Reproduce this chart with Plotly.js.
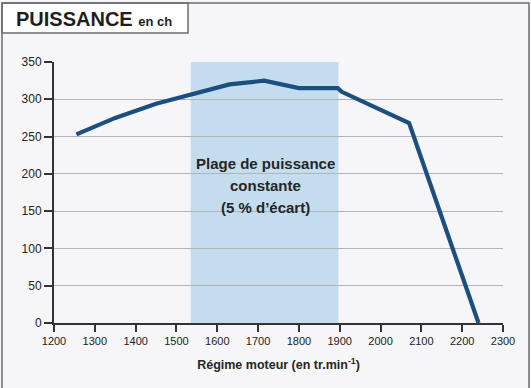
<!DOCTYPE html>
<html>
<head>
<meta charset="utf-8">
<script src="https://cdn.plot.ly/plotly-3.0.1.min.js"></script>
<style>
html,body{margin:0;padding:0;background:#f6f5f8;}
#chart{width:531px;height:388px;}
</style>
</head>
<body>
<div id="chart"></div>
<script>
// Data
const regime = [1255, 1350, 1450, 1530, 1630, 1715, 1800, 1895, 1905, 2070, 2240];
const puissance = [253, 275, 294, 306, 320, 325, 315, 315, 310, 268, 0];
const plageDebut = 1535;
const plageFin = 1897;
const plageTexte = ["Plage de puissance", "constante", "(5 % d’écart)"];
const plageTexteY = [214, 184, 155];
const plageTexteX = 1717;
const xTicks = [1200, 1300, 1400, 1500, 1600, 1700, 1800, 1900, 2000, 2100, 2200, 2300];
const yTicks = [0, 50, 100, 150, 200, 250, 300, 350];

// layout geometry (pixels)
const W = 531, H = 388;
const L = 54, R = 28, T = 62, B = 65;
const pw = W - L - R, ph = H - T - B;
const px = p => (p - L) / pw;
const py = p => (H - B - p) / ph;

const font = "Liberation Sans, Arial, sans-serif";

const trace = {
  x: regime, y: puissance, type: 'scatter', mode: 'lines',
  line: {color: '#1b4f80', width: 4.2},
  hoverinfo: 'skip', showlegend: false
};

const annotations = plageTexte.map((t, i) => ({
  x: plageTexteX, y: plageTexteY[i], xref: 'x', yref: 'y',
  text: '<b>' + t + '</b>', showarrow: false,
  font: {family: font, size: 15, color: '#262626'},
  xanchor: 'center', yanchor: 'middle'
}));

annotations.push({
  xref: 'paper', yref: 'paper', x: px(14), y: py(19),
  xanchor: 'left', yanchor: 'middle', showarrow: false,
  text: '<b><span style="font-size:20px">PUISSANCE</span> <span style="font-size:13px">en ch</span></b>',
  font: {family: font, size: 20, color: '#1e1e1e'}
});

const shapes = [
  {type: 'rect', xref: 'x', yref: 'y', x0: plageDebut, x1: plageFin, y0: 0, y1: 350,
   fillcolor: '#c3dcee', line: {width: 0}, layer: 'below'},
  {type: 'rect', xref: 'paper', yref: 'paper', x0: px(2), x1: px(529), y0: py(3), y1: py(420),
   fillcolor: 'rgba(0,0,0,0)', line: {color: '#6e6e72', width: 1.5}, layer: 'above'},
  {type: 'rect', xref: 'paper', yref: 'paper', x0: px(2), x1: px(188), y0: py(3), y1: py(33),
   fillcolor: '#ffffff', line: {color: '#6e6e72', width: 1.5}, layer: 'below'}
];

const layout = {
  width: W, height: H,
  margin: {l: L, r: R, t: T, b: B, pad: 0},
  paper_bgcolor: '#f6f5f8', plot_bgcolor: '#f6f5f8',
  font: {family: font, color: '#222'},
  showlegend: false,
  xaxis: {
    range: [1200, 2300], tickmode: 'array', tickvals: xTicks, ticktext: xTicks.map(String),
    showgrid: false, zeroline: false,
    showline: true, linecolor: '#333', linewidth: 2,
    ticks: 'outside', ticklen: 7, tickwidth: 2, tickcolor: '#333',
    tickfont: {family: font, size: 11, color: '#222'},
    title: {text: '<b>Régime moteur (en tr.min<sup>-1</sup>)</b>', font: {family: font, size: 12.5, color: '#262626'}, standoff: 14},
    fixedrange: true
  },
  yaxis: {
    range: [0, 350], tickmode: 'array', tickvals: yTicks, ticktext: yTicks.map(String),
    showgrid: true, gridcolor: '#b4b4b8', gridwidth: 1, zeroline: false,
    showline: true, linecolor: '#333', linewidth: 2,
    ticks: 'outside', ticklen: 8, tickwidth: 2, tickcolor: '#333',
    tickfont: {family: font, size: 12, color: '#222'},
    fixedrange: true
  },
  shapes: shapes,
  annotations: annotations
};

Plotly.newPlot('chart', [trace], layout, {displayModeBar: false, staticPlot: true});
</script>
</body>
</html>
